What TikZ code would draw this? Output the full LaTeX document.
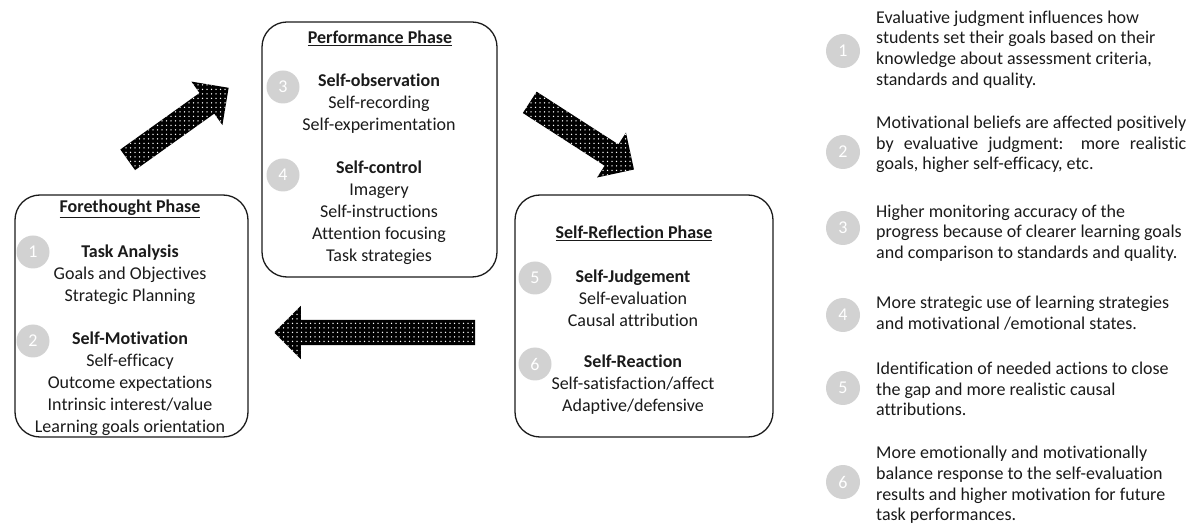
\documentclass[tikz,border=0pt]{standalone}
\usepackage{fontspec}
\setmainfont{Carlito}[Ligatures=NoCommon]
\usetikzlibrary{shapes.arrows,patterns.meta}
\definecolor{inkgrey}{HTML}{1A1A1A}
\definecolor{badgegrey}{HTML}{D2D2D2}
\newcommand{\panelfont}{\fontsize{18}{22}\selectfont}
\newcommand{\notefont}{\fontsize{18}{20.6}\selectfont}
\newlength{\notewidth}
\AtBeginDocument{\settowidth{\notewidth}{\notefont Motivational beliefs are affected positively}}

\begin{document}
\begin{tikzpicture}[x=1pt,y=-1pt,
  phase/.style={draw=inkgrey,line width=1.3pt,rounded corners=25pt,inner sep=0pt},
  heading/.style={font=\panelfont\bfseries,text=inkgrey,inner sep=0pt},
  group/.style={align=center,font=\panelfont,text=inkgrey,inner sep=0pt},
  badge/.style={circle,fill=badgegrey,text=white,minimum size=33pt,inner sep=0pt,font=\fontsize{18}{20}\selectfont},
  note/.style={anchor=west,align=left,font=\notefont,text=inkgrey,inner sep=0pt},
  bigarrow/.style={single arrow,minimum width=53pt,single arrow head extend=14pt,inner xsep=0pt,inner ysep=12.5pt,
    preaction={fill=black},pattern={Dots[radius=0.75pt,distance=4.5pt]},pattern color=white}]
\useasboundingbox (0,0) rectangle (1194,526);
% the three phase boxes
\node[phase,minimum width=233pt,minimum height=242pt] (fore) at (131.5,316) {};
\node[phase,minimum width=235pt,minimum height=255pt] (perf) at (379.5,149.5) {};
\node[phase,minimum width=258pt,minimum height=242pt] (refl) at (644,316) {};
\node[heading] (foreT) at (130,209) {\underline{Forethought Phase}};
\node[heading] (perfT) at (380,38) {\underline{Performance Phase}};
\node[heading] (reflT) at (634,233) {\underline{Self-Reflection Phase}};
\node[group] (taskA) at (130,275) {\textbf{Task Analysis}\\Goals and Objectives\\Strategic Planning};
\node[group] (selfM) at (130,383.5) {\textbf{Self-Motivation}\\Self-efficacy\\Outcome expectations\\Intrinsic interest/value\\Learning goals orientation};
\node[group] (selfO) at (379,104) {\textbf{Self-observation}\\Self-recording\\Self-experimentation};
\node[group] (selfC) at (379,212.5) {\textbf{Self-control}\\Imagery\\Self-instructions\\Attention focusing\\Task strategies};
\node[group] (selfJ) at (633,298.5) {\textbf{Self-Judgement}\\Self-evaluation\\Causal attribution};
\node[group] (selfR) at (633,385) {\textbf{Self-Reaction}\\Self-satisfaction/affect\\Adaptive/defensive};
\node[badge] (b1) at (33,252) {1};
\node[badge] (b2) at (33,341) {2};
\node[badge] (b3) at (283,87) {3};
\node[badge] (b4) at (283,175) {4};
\node[badge] (b5) at (535,278) {5};
\node[badge] (b6) at (535,364) {6};
% block arrows of the cycle
\node[bigarrow,minimum height=124pt,rotate=35.5] (rise) at (173,127.5) {};
\node[bigarrow,minimum height=124pt,rotate=-32.8] (fall) at (576.5,132.5) {};
\node[bigarrow,minimum height=201pt,rotate=180] (back) at (381,332.5) {};
% numbered notes on the right
\foreach \n/\y in {1/51,2/152,3/228,4/315,5/388,6/482}
  \node[badge,minimum size=34pt] (k\n) at (843,\y) {\n};
\node[note] (n1) at (876,49.5) {Evaluative judgment influences how\\students set their goals based on their\\knowledge about assessment criteria,\\standards and quality.};
\node[note] (n2) at (876,144.5) {Motivational beliefs are affected positively\\\makebox[\notewidth][s]{by evaluative judgment: more realistic}\\goals, higher self-efficacy, etc.};
\node[note] (n3) at (876,233) {Higher monitoring accuracy of the\\progress because of clearer learning goals\\and comparison to standards and quality.};
\node[note] (n4) at (876,313) {More strategic use of learning strategies\\and motivational /emotional states.};
\node[note] (n5) at (876,389) {Identification of needed actions to close\\the gap and more realistic causal\\attributions.};
\node[note] (n6) at (876,485) {More emotionally and motivationally\\balance response to the self-evaluation\\results and higher motivation for future\\task performances.};
\end{tikzpicture}
\end{document}
